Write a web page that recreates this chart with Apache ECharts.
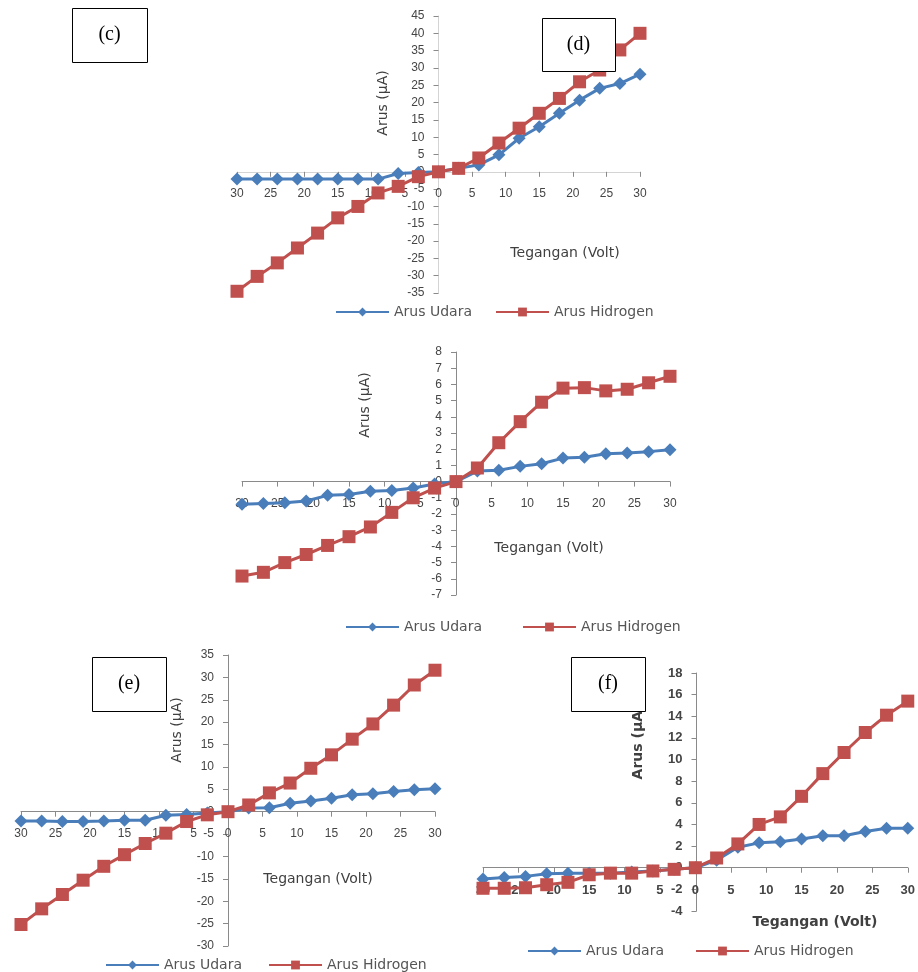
<!DOCTYPE html>
<html>
<head>
<meta charset="utf-8">
<script src="https://cdn.jsdelivr.net/npm/echarts@6/dist/echarts.min.js"></script>
<style>
html,body{margin:0;padding:0;background:#fff;}
#chart{width:918px;height:972px;}
</style>
</head>
<body>
<div id="chart"></div>
<script>
// Shared x values (Tegangan, Volt)
const voltage = [-30,-27,-24,-21,-18,-15,-12,-9,-6,-3,0,3,6,9,12,15,18,21,24,27,30];
const xTicks = [-30,-25,-20,-15,-10,-5,0,5,10,15,20,25,30];

// Top chart (boxes (c)/(d))
const udaraTop    = [-2.1,-2.1,-2.1,-2.1,-2.1,-2.1,-2.1,-2.1,-0.5,-0.2,0,1,2,4.9,9.7,13,16.9,20.7,24.1,25.5,28.2];
const hidrogenTop = [-34.5,-30.2,-26.3,-22,-17.7,-13.3,-10,-6.1,-4.2,-1.4,0,1,4,8.3,12.6,16.9,21.2,26,29.4,35.2,40];
const yTicksTop   = [-35,-30,-25,-20,-15,-10,-5,0,5,10,15,20,25,30,35,40,45];

// Middle chart
const udaraMid    = [-1.4,-1.35,-1.3,-1.2,-0.85,-0.8,-0.6,-0.55,-0.4,-0.15,0,0.65,0.7,0.94,1.1,1.45,1.5,1.72,1.76,1.85,1.97];
const hidrogenMid = [-5.83,-5.6,-5.0,-4.5,-3.94,-3.4,-2.8,-1.9,-1.0,-0.4,0,0.84,2.4,3.7,4.9,5.77,5.8,5.6,5.7,6.1,6.5];
const yTicksMid   = [-7,-6,-5,-4,-3,-2,-1,0,1,2,3,4,5,6,7,8];

// Chart (e)
const udaraE      = [-2.1,-2.1,-2.2,-2.2,-2.1,-1.9,-1.9,-0.8,-0.6,-0.3,0,0.8,0.9,1.9,2.4,3.0,3.8,4.0,4.5,4.9,5.1];
const hidrogenE   = [-25.2,-21.7,-18.5,-15.3,-12.2,-9.6,-7.1,-4.8,-2.2,-0.7,0,1.5,4.2,6.4,9.7,12.7,16.2,19.6,23.8,28.3,31.6];
const yTicksE     = [-30,-25,-20,-15,-10,-5,0,5,10,15,20,25,30,35];

// Chart (f)
const udaraF      = [-1.05,-0.9,-0.8,-0.55,-0.5,-0.5,-0.5,-0.4,-0.3,-0.15,0,0.7,1.9,2.3,2.4,2.65,2.95,2.95,3.35,3.65,3.65];
const hidrogenF   = [-1.9,-1.9,-1.85,-1.57,-1.35,-0.65,-0.5,-0.5,-0.3,-0.15,0,0.9,2.2,4.0,4.7,6.6,8.7,10.65,12.5,14.1,15.4];
const yTicksF     = [-4,-2,0,2,4,6,8,10,12,14,16,18];

const seriesNames = ['Arus Udara','Arus Hidrogen'];
const xName = 'Tegangan (Volt)';
const yName = 'Arus (μA)';
const panelLabels = ['(c)','(d)','(e)','(f)'];

const BLUE = '#4A7EBB', RED = '#C0504D';
const chart = echarts.init(document.getElementById('chart'), null, {renderer:'canvas'});

const panels = [
  {grid:{left:237, top:16, width:403, height:277}, u:udaraTop, h:hidrogenTop, yt:yTicksTop, axisColor:'#d4d4d4',
   legend:[{left:330, top:300},{left:490, top:300}], xn:[565,253], yn:[383,103], fs:12, bold:false},
  {grid:{left:242, top:352, width:428, height:243}, u:udaraMid, h:hidrogenMid, yt:yTicksMid, axisColor:'#8a8a8a',
   legend:[{left:340, top:615},{left:517, top:615}], xn:[549,548], yn:[365,405], fs:12, bold:false},
  {grid:{left:21, top:655, width:414, height:291}, u:udaraE, h:hidrogenE, yt:yTicksE, axisColor:'#8a8a8a',
   legend:[{left:100, top:953},{left:263, top:953}], xn:[318,879], yn:[177,730], fs:12, bold:false},
  {grid:{left:483, top:673, width:427, height:238}, u:udaraF, h:hidrogenF, yt:yTicksF, axisColor:'#8a8a8a',
   legend:[{left:522, top:939},{left:690, top:939}], xn:[815,922], yn:[638,742], fs:13, bold:true}
];

const option = {
  backgroundColor:'#fff',
  animation:false,
  grid:[], xAxis:[], yAxis:[], series:[], legend:[],
  graphic:{elements:[]}
};

const xMin = xTicks[0], xMax = xTicks[xTicks.length-1];

panels.forEach((p, i) => {
  option.grid.push(Object.assign({containLabel:false}, p.grid));
  const yt = p.yt;
  const yMin = yt[0], yMax = yt[yt.length-1];
  // axes cross at zero (Excel style): shift axis from grid edge to the zero line
  const xAxisOffset = -p.grid.height * (0 - yMin) / (yMax - yMin);
  const yAxisOffset = -p.grid.width * (0 - xMin) / (xMax - xMin);
  option.xAxis.push({
    type:'value', gridIndex:i, min:xMin, max:xMax, interval:xTicks[1]-xTicks[0],
    position:'bottom', offset:xAxisOffset,
    axisLine:{show:true, onZero:false, lineStyle:{color:p.axisColor, width:1}},
    axisTick:{show:true, length:5, lineStyle:{color:'#8a8a8a'}},
    axisLabel:{margin:16, color:'#454545', fontSize:p.fs, fontFamily:'Liberation Sans', fontWeight:p.bold?'bold':'normal',
      formatter: v => String(Math.abs(v))},
    splitLine:{show:false}
  });
  option.yAxis.push({
    type:'value', gridIndex:i, min:yMin, max:yMax, interval:yt[1]-yt[0],
    position:'left', offset:yAxisOffset,
    axisLine:{show:true, onZero:false, lineStyle:{color:p.axisColor, width:1}},
    axisTick:{show:true, length:5, lineStyle:{color:'#8a8a8a'}},
    axisLabel:{margin:14, color:'#454545', fontSize:p.fs, fontFamily:'Liberation Sans', fontWeight:p.bold?'bold':'normal'},
    splitLine:{show:false}
  });
  option.series.push({
    name:seriesNames[0], type:'line', xAxisIndex:i, yAxisIndex:i,
    data: voltage.map((v,k)=>[v, p.u[k]]),
    symbol:'diamond', symbolSize:13, z:3,
    lineStyle:{color:BLUE, width:3}, itemStyle:{color:BLUE}
  });
  option.series.push({
    name:seriesNames[1], type:'line', xAxisIndex:i, yAxisIndex:i,
    data: voltage.map((v,k)=>[v, p.h[k]]),
    symbol:'rect', symbolSize:13, z:4,
    lineStyle:{color:RED, width:3}, itemStyle:{color:RED}
  });
  seriesNames.forEach((nm, j) => {
    option.legend.push({
      data:[nm], left:p.legend[j].left, top:p.legend[j].top, itemWidth:53, itemHeight:11,
      selectedMode:false,
      textStyle:{fontFamily:'DejaVu Sans', fontSize:14, color:'#555'}
    });
  });
  option.graphic.elements.push({
    type:'text', x:p.xn[0], y:p.xn[1], z:50,
    style:{text:xName, align:'center', verticalAlign:'middle', fill:'#404040',
      font:(p.bold?'bold ':'')+'14px "DejaVu Sans"'}
  });
  option.graphic.elements.push({
    type:'text', x:p.yn[0], y:p.yn[1], rotation:Math.PI/2, z:50,
    style:{text:yName, align:'center', verticalAlign:'middle', fill:'#404040',
      font:(p.bold?'bold ':'')+'14px "DejaVu Sans"'}
  });
});

// Panel label boxes
const boxes = [[72,8,75,54],[542,18,73,53],[92,657,74,54],[571,657,74,54]];
boxes.forEach((b, i) => {
  option.graphic.elements.push({
    type:'rect', z:100, shape:{x:b[0]+0.5, y:b[1]+0.5, width:b[2], height:b[3]},
    style:{fill:'#fff', stroke:'#000', lineWidth:1}
  });
  option.graphic.elements.push({
    type:'text', z:101, x:b[0]+b[2]/2, y:b[1]+b[3]/2,
    style:{text:panelLabels[i], align:'center', verticalAlign:'middle', fill:'#000',
      font:'20px "Liberation Serif"'}
  });
});

chart.setOption(option);
</script>
</body>
</html>
